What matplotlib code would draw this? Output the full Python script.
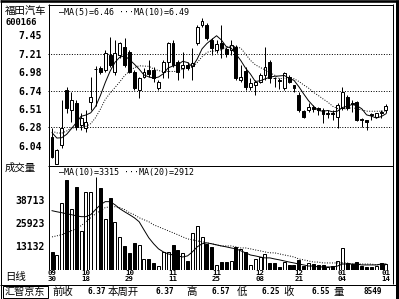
#!/usr/bin/env python3
"""600166 daily K-line + volume panel in the old black/white terminal look.

Writes out.png (399x299 px).
"""
from __future__ import annotations

import matplotlib

matplotlib.use("Agg")
import matplotlib.pyplot as plt
import pandas as pd
from matplotlib.patches import Rectangle

W, H = 399, 299
PX = 0.72  # one pixel in points at dpi 100
CJK = ["Noto Sans CJK SC", "DejaVu Sans"]
MONO = ["DejaVu Sans Mono", "Noto Sans CJK SC"]

# daily bars, oldest first
opens = [6.15, 5.81, 6.05, 6.75, 6.50, 6.59, 6.31, 6.27, 6.60, 7.02,
         7.03, 7.01, 7.20, 6.98, 7.20, 7.30, 7.23, 6.98, 6.75, 6.92,
         7.01, 7.01, 6.78, 6.98, 7.11, 7.35, 7.11, 7.03, 7.07, 7.05,
         7.35, 7.58, 7.58, 7.39, 7.26, 7.35, 7.27, 7.26, 7.30, 6.88,
         6.99, 6.79, 6.81, 6.85, 6.94, 7.11, 6.91, 6.88, 6.78, 6.92,
         6.81, 6.69, 6.48, 6.50, 6.54, 6.52, 6.50, 6.45, 6.46, 6.41,
         6.52, 6.66, 6.59, 6.60, 6.38, 6.37, 6.45, 6.41, 6.47, 6.50]
highs = [6.27, 6.00, 6.62, 6.79, 6.73, 6.62, 6.46, 6.50, 6.92, 7.06,
         7.06, 7.26, 7.42, 7.39, 7.36, 7.41, 7.26, 7.01, 6.92, 7.03,
         7.13, 7.04, 6.88, 7.13, 7.36, 7.39, 7.13, 7.23, 7.11, 7.28,
         7.58, 7.67, 7.60, 7.41, 7.39, 7.58, 7.30, 7.39, 7.32, 7.07,
         7.04, 6.90, 6.88, 6.97, 7.30, 7.13, 6.92, 6.90, 6.98, 6.94,
         6.81, 6.73, 6.50, 6.59, 6.56, 6.54, 6.52, 6.50, 6.50, 6.59,
         6.79, 6.69, 6.62, 6.61, 6.40, 6.37, 6.46, 6.46, 6.50, 6.57]
lows = [5.89, 5.80, 6.02, 6.46, 6.34, 6.24, 6.24, 6.22, 6.50, 6.55,
        6.95, 6.98, 7.04, 6.94, 7.16, 7.04, 6.97, 6.75, 6.65, 6.90,
        6.92, 6.85, 6.75, 6.90, 6.90, 7.04, 6.88, 6.90, 7.01, 6.88,
        7.32, 7.55, 7.39, 7.20, 7.22, 7.16, 7.17, 7.20, 6.88, 6.85,
        6.75, 6.75, 6.69, 6.84, 6.88, 6.84, 6.79, 6.77, 6.75, 6.84,
        6.73, 6.47, 6.40, 6.47, 6.47, 6.43, 6.33, 6.40, 6.37, 6.27,
        6.50, 6.50, 6.47, 6.36, 6.28, 6.25, 6.37, 6.40, 6.40, 6.46]
closes = [5.90, 5.99, 6.27, 6.52, 6.62, 6.28, 6.40, 6.35, 6.66, 7.02,
          6.98, 7.22, 7.07, 7.22, 7.35, 7.07, 6.98, 6.78, 6.90, 6.98,
          6.95, 6.90, 6.85, 7.11, 7.35, 7.07, 6.98, 7.07, 7.03, 7.09,
          7.55, 7.63, 7.41, 7.28, 7.33, 7.28, 7.21, 7.32, 6.90, 6.92,
          6.79, 6.84, 6.85, 6.94, 7.04, 6.90, 6.90, 6.87, 6.97, 6.85,
          6.78, 6.50, 6.41, 6.54, 6.51, 6.50, 6.45, 6.46, 6.45, 6.56,
          6.73, 6.52, 6.58, 6.37, 6.37, 6.34, 6.44, 6.46, 6.46, 6.55]
volumes = [10000, 8300, 37200, 50000, 33900, 46100, 21700, 43400, 43400, 51700,
           45600, 28400, 40000, 26700, 18400, 13300, 9500, 15000, 13900, 6100,
           6100, 3900, 2200, 10000, 10000, 13900, 11100, 9500, 5000, 20600,
           24500, 18400, 14500, 12800, 2800, 4400, 4400, 5000, 12800, 11700,
           10000, 2800, 6100, 7200, 8900, 3900, 3900, 1700, 4400, 2800,
           2800, 5600, 2200, 3900, 3300, 2800, 2800, 1700, 2200, 5000,
           12200, 3900, 3300, 4400, 2200, 1700, 1700, 2200, 3900, 3300]

# closes before the window, so MA(5)/MA(10) already run at the left edge
pre_closes = [6.22, 6.30, 6.26, 6.21, 6.26, 6.33, 6.25, 6.31, 6.26]

# volume moving averages as traced on the panel
vol_ma10 = [32800, 32200, 31700, 31100, 30600, 30000, 29500, 29500, 30600, 33400,
            36100, 37800, 37800, 36100, 33900, 32200, 30600, 28900, 26700, 22200,
            17800, 14500, 11700, 10000, 8900, 8300, 7800, 7200, 7800, 10000,
            12800, 14500, 15000, 14500, 13900, 13300, 12800, 12200, 11700, 10600,
            9500, 8300, 7800, 7200, 6700, 6700, 6100, 5600, 5000, 4400,
            3900, 3300, 2800, 2200, 2200, 1700, 1700, 1700, 1700, 2200,
            3300, 3300, 3300, 3300, 2800, 2800, 2800, 2800, 3300, 3315]
vol_ma20 = [18300, 18900, 19500, 20600, 21700, 22800, 24500, 26700, 28900, 31100,
            32800, 34500, 35000, 35000, 34500, 33400, 31700, 30600, 28900, 27800,
            26700, 25000, 23900, 22800, 21700, 20600, 19500, 18300, 17200, 16700,
            16100, 15600, 15000, 14500, 13900, 13300, 13300, 13300, 12800, 12200,
            12200, 11700, 11100, 10600, 10000, 9500, 9500, 8900, 8300, 7800,
            7200, 6100, 5600, 5000, 4400, 4400, 3900, 3900, 3900, 3900,
            3900, 3900, 3300, 3300, 3300, 3300, 3300, 2800, 2800, 2912]

date_idx = [0, 7, 16, 25, 34, 43, 51, 60, 69]
date_labels = ["09\n30", "10\n18", "10\n29", "11\n11", "11\n25",
               "12\n08", "12\n21", "01\n04", "01\n14"]
price_ticks = [7.45, 7.21, 6.98, 6.74, 6.51, 6.28, 6.04]
price_grid = [7.21, 6.74, 6.28]
vol_ticks = [13132, 25923, 38713]

stock_name = "福田汽车"
stock_code = "600166"
price_legend = "—MA(5)=6.46 ···MA(10)=6.49"
vol_legend = "—MA(10)=3315 ···MA(20)=2912"
strip_labels = ["前收", "本周开", "高", "低", "收", "量"]
strip_values = ["6.37", "6.37", "6.57", "6.25", "6.55", "8549"]


def box(x0, y0, x1, y1):
    """pixel box (top-left origin) -> figure fraction rect"""
    return [x0 / W, 1 - y1 / H, (x1 - x0) / W, (y1 - y0) / H]


def bare(ax):
    for s in ax.spines.values():
        s.set_visible(False)
    ax.set_facecolor("white")


def main() -> int:
    fig = plt.figure(figsize=(W / 100, H / 100), dpi=100, facecolor="white")
    xs = list(range(len(closes)))
    ups = [c >= o for o, c in zip(opens, closes)]
    faces = ["white" if u else "black" for u in ups]

    # ---- price panel
    ax = fig.add_axes(box(48, 5, 392, 165))
    bare(ax)
    ax.set_xlim(-0.83, 70.25)
    ax.set_ylim(5.80, 7.83)
    for g in price_grid:
        ax.axhline(g, color="black", lw=PX, ls=(0, (1, 1.6)), zorder=1)
    ax.vlines(xs, lows, highs, color="black", lw=PX, zorder=2)
    bottoms = [min(o, c) for o, c in zip(opens, closes)]
    heights = [abs(c - o) for o, c in zip(opens, closes)]
    ax.bar(xs, heights, bottom=bottoms, width=0.6, color=faces,
           edgecolor="black", lw=PX, zorder=3)

    s = pd.Series(pre_closes + closes)
    n0 = len(pre_closes)
    ma5 = s.rolling(5).mean().iloc[n0:].to_numpy()
    ma10 = s.rolling(10).mean().iloc[n0:].to_numpy()
    ax.plot(xs, ma5, color="black", lw=0.7, zorder=4)
    ax.plot(xs, ma10, color="black", lw=0.7, ls=(0, (1, 1.6)), zorder=4)

    ax.set_xticks([])
    ax.set_yticks(price_ticks)
    ax.set_yticklabels([f"{t:.2f}" for t in price_ticks])
    ax.tick_params(axis="y", length=0, pad=4.3)
    for lab in ax.get_yticklabels():
        lab.set_fontfamily(MONO)
        lab.set_fontsize(7)
        lab.set_fontweight("bold")

    # ---- volume panel
    av = fig.add_axes(box(48, 165, 392, 270))
    bare(av)
    av.set_xlim(-0.83, 70.25)
    av.set_ylim(0, 58070)
    doji = [o == c for o, c in zip(opens, closes)]
    bx = [x for x, d in zip(xs, doji) if not d]
    av.bar(bx, [v for v, d in zip(volumes, doji) if not d], width=0.62,
           color=[f for f, d in zip(faces, doji) if not d],
           edgecolor="black", lw=PX, zorder=2)
    lx = [x for x, d in zip(xs, doji) if d]
    av.vlines(lx, 0, [v for v, d in zip(volumes, doji) if d], color="black", lw=PX, zorder=2)
    av.plot(xs, vol_ma10, color="black", lw=0.7, zorder=3)
    av.plot(xs, vol_ma20, color="black", lw=0.7, ls=(0, (1, 1.6)), zorder=3)

    av.set_yticks(vol_ticks)
    av.set_yticklabels([str(t) for t in vol_ticks])
    av.tick_params(axis="y", length=0, pad=2.2)
    av.set_xticks(date_idx)
    av.set_xticklabels(date_labels)
    av.tick_params(axis="x", length=0, pad=0.0)
    for lab in av.get_yticklabels():
        lab.set_fontfamily(MONO)
        lab.set_fontsize(7)
        lab.set_fontweight("bold")
    for lab in av.get_xticklabels():
        lab.set_fontfamily(MONO)
        lab.set_fontsize(5.3)
        lab.set_fontweight("bold")
        lab.set_linespacing(0.95)

    # ---- frame + captions in pixel space
    a0 = fig.add_axes([0, 0, 1, 1], zorder=10)
    a0.set_xlim(0, W)
    a0.set_ylim(H, 0)
    a0.axis("off")
    k = dict(color="black", solid_capstyle="butt")
    a0.plot([0.5, 0.5], [0, H], lw=PX, **k)
    a0.plot([0, W], [1.3, 1.3], lw=2.6 * PX, **k)
    a0.plot([0, W], [298.5, 298.5], lw=PX, **k)
    a0.plot([396.8, 396.8], [0, H], lw=3 * PX, **k)
    a0.plot([392.5, 392.5], [4, 284], lw=PX, **k)
    a0.plot([48.5, 48.5], [4, 270], lw=PX, **k)
    a0.plot([48, 393], [4.5, 4.5], lw=PX, **k)
    a0.plot([48, 393], [165.5, 165.5], lw=PX, **k)
    a0.plot([0, W], [284.5, 284.5], lw=PX, **k)
    a0.add_patch(Rectangle((3, 286), 45, 11.5, fill=False, ec="black", lw=PX))

    a0.text(5, 12, stock_name, family=CJK, fontsize=7.5, va="center")
    a0.text(5, 22.5, stock_code, family=MONO, fontsize=6.3, weight="bold", va="center")
    a0.text(59, 13, price_legend, family=MONO, fontsize=6, va="center")
    a0.text(5, 168, "成交量", family=CJK, fontsize=7.5, va="center")
    a0.text(59, 172, vol_legend, family=MONO, fontsize=6, va="center")
    a0.text(5, 277, "日线", family=CJK, fontsize=7.5, va="center")

    a0.text(5, 291.5, "汇智京东", family=CJK, fontsize=7.3, va="center")
    lab_x = [52, 108, 186, 237, 283, 333]
    val_x = [87, 155, 212, 262, 312, 363]
    for lx_, t in zip(lab_x, strip_labels):
        a0.text(lx_, 291.5, t, family=CJK, fontsize=7.5, va="center")
    for vx, t in zip(val_x, strip_values):
        a0.text(vx, 292, t, family=MONO, fontsize=5.6, weight="bold", va="center")

    fig.savefig("out.png", dpi=100, facecolor="white")
    plt.close(fig)
    return 0


if __name__ == "__main__":
    raise SystemExit(main())
